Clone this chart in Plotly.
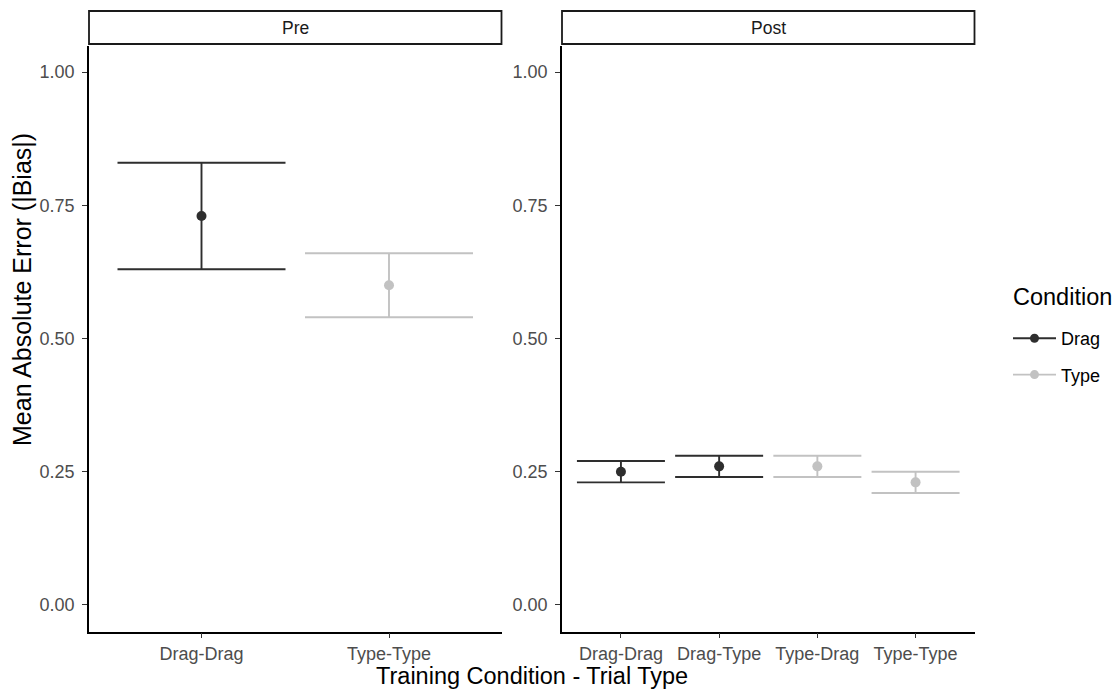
import plotly.graph_objects as go

# ---- data ----
pre_categories = ["Drag-Drag", "Type-Type"]
pre_condition = ["Drag", "Type"]
pre_mean = [0.73, 0.60]
pre_lower = [0.63, 0.54]
pre_upper = [0.83, 0.66]

post_categories = ["Drag-Drag", "Drag-Type", "Type-Drag", "Type-Type"]
post_condition = ["Drag", "Drag", "Type", "Type"]
post_mean = [0.25, 0.26, 0.26, 0.23]
post_lower = [0.23, 0.24, 0.24, 0.21]
post_upper = [0.27, 0.28, 0.28, 0.25]

conditions = ["Drag", "Type"]
y_ticks = [0.00, 0.25, 0.50, 0.75, 1.00]
y_ticktext = ["0.00", "0.25", "0.50", "0.75", "1.00"]

colors = {"Drag": "#2E2E2E", "Type": "#C2C2C2"}
FONT = "Liberation Sans, Arial, Helvetica, sans-serif"
TICK_SIZE = 18
TITLE_SIZE = 23.5

W, H = 1113, 691
def px_x(p):
    return p / W
def px_y(p):
    return 1 - p / H

left_dom = [px_x(89), px_x(501.5)]
right_dom = [px_x(562), px_x(974.5)]
y_dom = [px_y(631.5), px_y(45.5)]

fig = go.Figure()

def add_panel(cats, conds, mean, lower, upper, xa, ya, cap_half):
    for c in conditions:
        idx = [i for i, k in enumerate(conds) if k == c]
        if not idx:
            continue
        fig.add_trace(go.Scatter(
            x=[cats[i] for i in idx],
            y=[mean[i] for i in idx],
            mode="markers",
            marker=dict(color=colors[c], size=10),
            error_y=dict(type="data", symmetric=False,
                         array=[upper[i] - mean[i] for i in idx],
                         arrayminus=[mean[i] - lower[i] for i in idx],
                         color=colors[c], thickness=1.9, width=cap_half),
            xaxis=xa, yaxis=ya, showlegend=False, hoverinfo="x+y",
        ))

add_panel(pre_categories, pre_condition, pre_mean, pre_lower, pre_upper, "x", "y", 84)
add_panel(post_categories, post_condition, post_mean, post_lower, post_upper, "x2", "y2", 44)

# legend entries
for c in conditions:
    fig.add_trace(go.Scatter(
        x=[None], y=[None], mode="lines+markers", name=c, legendgroup=c,
        line=dict(color=colors[c], width=1.9),
        marker=dict(color=colors[c], size=9),
        xaxis="x", yaxis="y", showlegend=True,
    ))

axis_common = dict(
    showline=True, linecolor="black", linewidth=1.5,
    ticks="outside", ticklen=5, tickwidth=1.3, tickcolor="#333333",
    showgrid=False, zeroline=False,
    tickfont=dict(family=FONT, size=TICK_SIZE, color="#4D4D4D"),
)

fig.update_layout(
    width=W, height=H,
    margin=dict(l=0, r=0, t=0, b=0),
    paper_bgcolor="white", plot_bgcolor="white",
    font=dict(family=FONT),
    xaxis=dict(domain=left_dom, anchor="y", type="category",
               categoryorder="array", categoryarray=pre_categories,
               range=[-0.6, len(pre_categories) - 0.4], **axis_common),
    yaxis=dict(domain=y_dom, anchor="x", range=[-0.05, 1.05],
               tickvals=y_ticks, ticktext=y_ticktext, ticklabelstandoff=4,
               **axis_common),
    xaxis2=dict(domain=right_dom, anchor="y2", type="category",
                categoryorder="array", categoryarray=post_categories,
                range=[-0.6, len(post_categories) - 0.4], **axis_common),
    yaxis2=dict(domain=y_dom, anchor="x2", range=[-0.05, 1.05],
                tickvals=y_ticks, ticktext=y_ticktext, ticklabelstandoff=4,
                **axis_common),
    legend=dict(
        x=px_x(1008), y=px_y(320), xanchor="left", yanchor="top",
        font=dict(family=FONT, size=TICK_SIZE, color="black"),
        itemwidth=43, tracegroupgap=10, traceorder="grouped",
        bgcolor="rgba(0,0,0,0)",
    ),
)

# facet strips
for dom, label in [(left_dom, "Pre"), (right_dom, "Post")]:
    fig.add_shape(type="rect", xref="paper", yref="paper",
                  x0=dom[0], x1=dom[1], y0=px_y(44), y1=px_y(11),
                  line=dict(color="#1A1A1A", width=1.8), fillcolor="white")
    fig.add_annotation(xref="paper", yref="paper", x=(dom[0] + dom[1]) / 2,
                       y=px_y(28), text=label, showarrow=False,
                       font=dict(family=FONT, size=17.5, color="#1A1A1A"),
                       xanchor="center", yanchor="middle")

# legend title
fig.add_annotation(xref="paper", yref="paper", x=px_x(1011), y=px_y(297),
                   text="Condition", showarrow=False,
                   font=dict(family=FONT, size=TITLE_SIZE, color="black"),
                   xanchor="left", yanchor="middle")

# axis titles
fig.add_annotation(xref="paper", yref="paper", x=(left_dom[0] + right_dom[1]) / 2,
                   y=px_y(676), text="Training Condition - Trial Type", showarrow=False,
                   font=dict(family=FONT, size=TITLE_SIZE, color="black"),
                   xanchor="center", yanchor="middle")
fig.add_annotation(xref="paper", yref="paper", x=px_x(22), y=px_y(290),
                   text="Mean Absolute Error (|Bias|)", showarrow=False, textangle=-90,
                   font=dict(family=FONT, size=25, color="black"),
                   xanchor="center", yanchor="middle")

fig.write_html("out.html", config={"displayModeBar": False},
               post_script="document.body.style.margin='0px';document.body.style.overflow='hidden';")
